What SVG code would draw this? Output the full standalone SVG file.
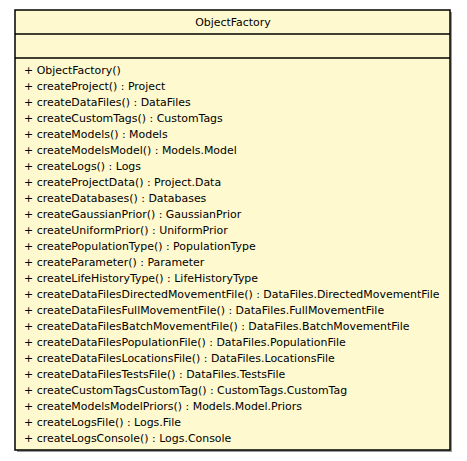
<svg xmlns="http://www.w3.org/2000/svg" width="467" height="461" viewBox="0 0 467 461">
<style>
text{font-family:"DejaVu Sans","Liberation Sans",sans-serif;font-size:10.95px;fill:#000}
.box{fill:#FFF9CF;stroke:#000;stroke-width:1.5}
.sh{fill:#999}
</style>
<rect width="467" height="461" fill="#fff"/>
<g id="ObjectFactory">
<rect class="sh" x="17" y="12" width="435" height="440"/>
<rect class="box" x="15" y="10" width="435" height="440"/>
<line x1="15" y1="34" x2="450" y2="34" stroke="#000" stroke-width="1.5"/>
<line x1="15" y1="58" x2="450" y2="58" stroke="#000" stroke-width="1.5"/>
<text x="233" y="26" text-anchor="middle">ObjectFactory</text>
<text x="24" y="74">+ ObjectFactory()</text>
<text x="24" y="90">+ createProject() : Project</text>
<text x="24" y="106">+ createDataFiles() : DataFiles</text>
<text x="24" y="122">+ createCustomTags() : CustomTags</text>
<text x="24" y="138">+ createModels() : Models</text>
<text x="24" y="154">+ createModelsModel() : Models.Model</text>
<text x="24" y="170">+ createLogs() : Logs</text>
<text x="24" y="186">+ createProjectData() : Project.Data</text>
<text x="24" y="202">+ createDatabases() : Databases</text>
<text x="24" y="218">+ createGaussianPrior() : GaussianPrior</text>
<text x="24" y="234">+ createUniformPrior() : UniformPrior</text>
<text x="24" y="250">+ createPopulationType() : PopulationType</text>
<text x="24" y="266">+ createParameter() : Parameter</text>
<text x="24" y="282">+ createLifeHistoryType() : LifeHistoryType</text>
<text x="24" y="298">+ createDataFilesDirectedMovementFile() : DataFiles.DirectedMovementFile</text>
<text x="24" y="314">+ createDataFilesFullMovementFile() : DataFiles.FullMovementFile</text>
<text x="24" y="330">+ createDataFilesBatchMovementFile() : DataFiles.BatchMovementFile</text>
<text x="24" y="346">+ createDataFilesPopulationFile() : DataFiles.PopulationFile</text>
<text x="24" y="362">+ createDataFilesLocationsFile() : DataFiles.LocationsFile</text>
<text x="24" y="378">+ createDataFilesTestsFile() : DataFiles.TestsFile</text>
<text x="24" y="394">+ createCustomTagsCustomTag() : CustomTags.CustomTag</text>
<text x="24" y="410">+ createModelsModelPriors() : Models.Model.Priors</text>
<text x="24" y="426">+ createLogsFile() : Logs.File</text>
<text x="24" y="442">+ createLogsConsole() : Logs.Console</text>
</g>
</svg>
